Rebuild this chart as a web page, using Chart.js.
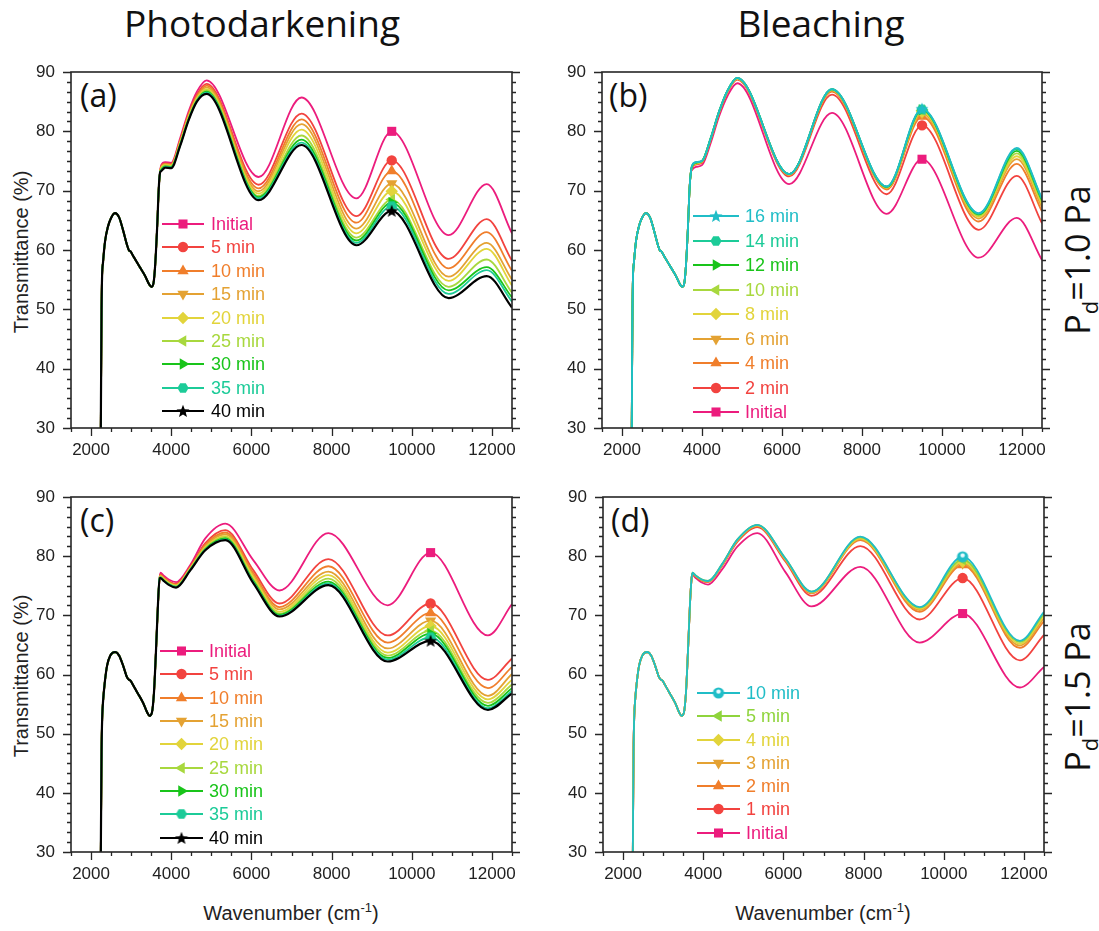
<!DOCTYPE html>
<html>
<head>
<meta charset="utf-8">
<script src="https://cdn.jsdelivr.net/npm/chart.js@4.4.1/dist/chart.umd.min.js"></script>
<style>
  body { margin: 0; background: #fff; }
  #page { position: relative; width: 1099px; height: 931px; overflow: hidden; font-family: 'Liberation Sans', Arial, sans-serif; color: #222; }
  .abs { position: absolute; white-space: nowrap; }
  .head { font-family: 'Open Sans', sans-serif; font-size: 37px; line-height: 1; transform: translateX(-50%); color: #111; }
  .tag { font-family: 'Open Sans', sans-serif; font-size: 32px; line-height: 1; color: #111; }
  .ytitle { font-size: 20px; line-height: 1; transform: translate(-50%, -50%) rotate(-90deg); }
  .xtitle { font-size: 20px; line-height: 1; transform: translate(-50%, -50%); }
  .side { font-family: 'Open Sans', sans-serif; font-size: 34px; line-height: 1; transform: translate(-50%, -50%) rotate(-90deg); color: #111; }
  .lg { font-size: 18px; line-height: 20px; }
  canvas { position: absolute; }
</style>
</head>
<body>
<div id="page">
  <div class="abs head" style="left:262px; top:4px">Photodarkening</div>
  <div class="abs head" style="left:821px; top:4px">Bleaching</div>
  <div class="abs ytitle" style="left:21px; top:252px">Transmittance (%)</div>
  <div class="abs ytitle" style="left:21px; top:676px">Transmittance (%)</div>
  <div class="abs xtitle" style="left:291px; top:912px">Wavenumber (cm<sup style="font-size:13px">-1</sup>)</div>
  <div class="abs xtitle" style="left:823px; top:912px">Wavenumber (cm<sup style="font-size:13px">-1</sup>)</div>
  <div class="abs side" style="left:1080px; top:260px">P<sub style="font-size:22px">d</sub>=1.0 Pa</div>
  <div class="abs side" style="left:1080px; top:697px">P<sub style="font-size:22px">d</sub>=1.5 Pa</div>
  <div class="abs tag" style="left:80px; top:79px">(a)</div>
  <div class="abs tag" style="left:609px; top:79px">(b)</div>
  <div class="abs tag" style="left:80px; top:504px">(c)</div>
  <div class="abs tag" style="left:611px; top:504px">(d)</div>
</div>
<script>
// axis ticks
const xTickVals = [2000, 4000, 6000, 8000, 10000, 12000];

// low wavenumber part, identical for every curve of a sample
const lowX10 = [2240, 2262, 2275, 2300, 2350, 2420, 2500, 2600, 2700, 2800, 2900, 2950, 2980, 3050, 3200, 3350, 3450, 3510, 3560, 3600, 3650, 3690, 3720];
const lowY10 = [26, 50, 55.5, 58.0, 61.5, 63.9, 65.4, 66.2, 65.5, 63.3, 60.8, 59.9, 59.8, 59.0, 57.3, 55.6, 54.2, 53.8, 54.5, 57.5, 64.0, 70.5, 73.0];
const lowX15 = [2240, 2262, 2280, 2300, 2340, 2400, 2480, 2600, 2700, 2800, 2900, 2950, 2980, 3050, 3150, 3300, 3400, 3460, 3520, 3570, 3620, 3670, 3710];
const lowY15 = [26, 47, 53, 55.5, 58.5, 61.5, 63.2, 63.8, 63.2, 61.5, 59.5, 59.1, 59.0, 58.2, 57.0, 55.2, 53.6, 53.0, 53.6, 57.0, 64.0, 72.0, 76.3];

// wavenumbers of the part where the curves separate
const tailX10 = [3750, 3850, 4000, 4220, 4430, 4640, 4880, 6180, 7250, 8620, 9500, 10920, 11870, 12500];
const tailX15 = [3735, 3800, 3950, 4120, 4475, 4850, 5350, 6050, 6700, 7920, 9400, 10470, 11900, 12500];
const markX10 = 9500;
const markX15 = 10470;

// (a) photodarkening, Pd = 1.0 Pa
const aLabels = ['Initial', '5 min', '10 min', '15 min', '20 min', '25 min', '30 min', '35 min', '40 min'];
const aInitial = [74.3, 74.8, 74.7, 78.8, 83.3, 86.7, 88.6, 72.3, 85.7, 68.7, 80.0, 62.5, 71.1, 62.8];
const a5 = [74.1, 74.6, 74.5, 78.5, 82.9, 86.2, 88.0, 71.0, 83.0, 65.7, 75.1, 58.5, 65.2, 58.2];
const a10 = [74.0, 74.5, 74.4, 78.3, 82.7, 85.9, 87.7, 70.4, 82.0, 64.6, 73.3, 56.9, 63.0, 56.5];
const a15 = [73.9, 74.4, 74.3, 78.1, 82.5, 85.7, 87.4, 69.9, 81.2, 63.6, 71.2, 55.5, 61.2, 55.0];
const a20 = [73.8, 74.3, 74.2, 78.0, 82.3, 85.5, 87.1, 69.5, 80.3, 62.8, 69.9, 54.8, 60.2, 54.0];
const a25 = [73.6, 74.2, 74.1, 77.8, 82.1, 85.3, 86.9, 69.1, 79.3, 62.1, 68.5, 53.8, 58.4, 52.8];
const a30 = [73.5, 74.1, 74.0, 77.7, 82.0, 85.2, 86.7, 68.9, 78.6, 61.6, 68.0, 53.2, 57.1, 52.0];
const a35 = [73.4, 74.0, 73.9, 77.6, 81.9, 85.1, 86.5, 68.7, 78.1, 61.2, 67.4, 52.6, 56.6, 51.3];
const a40 = [73.3, 73.9, 73.8, 77.5, 81.8, 85.0, 86.3, 68.4, 77.7, 60.8, 66.6, 51.9, 55.6, 50.3];

// (b) bleaching, Pd = 1.0 Pa
const bLabels = ['16 min', '14 min', '12 min', '10 min', '8 min', '6 min', '4 min', '2 min', 'Initial'];
const b16 = [74.2, 74.8, 75.0, 78.9, 83.4, 86.9, 89.0, 72.8, 87.1, 70.7, 83.8, 66.2, 77.2, 68.7];
const b14 = [74.2, 74.8, 75.0, 78.9, 83.4, 86.9, 89.0, 72.8, 87.1, 70.7, 83.7, 66.1, 77.0, 68.6];
const b12 = [74.1, 74.7, 75.0, 78.9, 83.4, 86.9, 89.0, 72.8, 87.1, 70.6, 83.6, 66.0, 76.7, 68.4];
const b10 = [74.1, 74.7, 75.0, 78.9, 83.4, 86.9, 89.0, 72.8, 87.0, 70.6, 83.5, 65.8, 76.3, 68.1];
const b8 = [74.0, 74.6, 74.9, 78.8, 83.3, 86.8, 88.9, 72.7, 87.0, 70.5, 83.3, 65.6, 75.8, 67.7];
const b6 = [74.0, 74.6, 74.9, 78.8, 83.3, 86.8, 88.9, 72.7, 86.9, 70.4, 83.0, 65.3, 75.3, 67.2];
const b4 = [73.9, 74.5, 74.8, 78.7, 83.2, 86.7, 88.8, 72.6, 86.7, 70.2, 82.5, 64.8, 74.5, 66.5];
const b2 = [73.8, 74.4, 74.7, 78.6, 83.1, 86.6, 88.7, 72.4, 86.2, 69.4, 81.0, 63.4, 72.5, 64.5];
const bInitial = [73.5, 74.0, 74.3, 78.1, 82.6, 86.0, 88.1, 71.1, 83.1, 66.1, 75.3, 58.7, 65.4, 58.3];

// (c) photodarkening, Pd = 1.5 Pa
const cLabels = aLabels;
const cInitial = [77.2, 76.8, 76.0, 75.6, 78.5, 83.0, 85.5, 79.3, 74.2, 83.9, 71.7, 80.6, 66.6, 71.9];
const c5 = [76.9, 76.5, 75.7, 75.3, 78.2, 82.2, 84.4, 77.6, 72.0, 79.5, 66.6, 72.0, 59.1, 62.7];
const c10 = [76.8, 76.4, 75.6, 75.2, 78.1, 81.9, 84.0, 77.1, 71.4, 78.3, 65.4, 70.4, 57.7, 61.3];
const c15 = [76.7, 76.3, 75.5, 75.1, 78.0, 81.7, 83.7, 76.7, 71.0, 77.4, 64.4, 69.1, 56.4, 60.1];
const c20 = [76.6, 76.2, 75.4, 75.0, 77.9, 81.5, 83.4, 76.4, 70.6, 76.8, 63.7, 68.2, 55.8, 59.1];
const c25 = [76.5, 76.1, 75.3, 74.9, 77.8, 81.3, 83.2, 76.0, 70.3, 76.2, 63.2, 67.4, 55.2, 58.3];
const c30 = [76.4, 76.0, 75.2, 74.8, 77.7, 81.2, 83.0, 75.8, 70.1, 75.7, 62.8, 66.9, 54.7, 57.7];
const c35 = [76.4, 75.9, 75.2, 74.8, 77.7, 81.1, 82.85, 75.6, 69.9, 75.4, 62.5, 66.3, 54.3, 57.2];
const c40 = [76.3, 75.9, 75.1, 74.7, 77.6, 81.0, 82.7, 75.4, 69.8, 75.1, 62.2, 65.7, 54.0, 56.8];

// (d) bleaching, Pd = 1.5 Pa
const dLabels = ['10 min', '5 min', '4 min', '3 min', '2 min', '1 min', 'Initial'];
const d10 = [77.2, 76.8, 76.1, 75.8, 78.7, 82.8, 85.3, 79.6, 74.0, 83.3, 71.4, 79.9, 65.7, 70.6];
const d5 = [77.2, 76.8, 76.1, 75.8, 78.7, 82.8, 85.3, 79.6, 74.0, 83.2, 71.3, 79.4, 65.5, 70.3];
const d4 = [77.2, 76.8, 76.1, 75.8, 78.6, 82.7, 85.2, 79.5, 73.9, 83.0, 71.1, 79.1, 65.2, 69.9];
const d3 = [77.1, 76.7, 76.0, 75.7, 78.6, 82.7, 85.2, 79.4, 73.8, 82.9, 70.9, 78.8, 64.9, 69.5];
const d2 = [77.1, 76.7, 76.0, 75.7, 78.5, 82.6, 85.1, 79.3, 73.7, 82.7, 70.6, 78.5, 64.5, 69.0];
const d1 = [77.0, 76.6, 75.9, 75.6, 78.4, 82.4, 84.9, 79.1, 73.3, 81.7, 69.3, 76.3, 62.4, 66.7];
const dInitial = [76.8, 76.4, 75.6, 75.2, 77.8, 81.6, 83.9, 77.3, 71.5, 78.2, 65.4, 70.3, 57.8, 61.3];

// colours and marker shapes, in legend order
const darkColors = ['#ec1c7d', '#f2433f', '#f07e2b', '#e4a233', '#e2d43b', '#a8d83e', '#19c41a', '#1ccb98', '#000000'];
const darkMarks = ['square', 'circle', 'up', 'down', 'diamond', 'left', 'right', 'hex', 'star'];
const bleachColors = ['#20bdc7', '#1ccb98', '#19c41a', '#a8d83e', '#e2d43b', '#e4a233', '#f07e2b', '#f2433f', '#ec1c7d'];
const bleachMarks = ['star', 'hex', 'right', 'left', 'diamond', 'down', 'up', 'circle', 'square'];
const dColors = ['#20bdc7', '#8fd43c', '#e2d43b', '#e4a233', '#f07e2b', '#f2433f', '#ec1c7d'];
const dMarks = ['ball', 'left', 'diamond', 'down', 'up', 'circle', 'square'];

function glyph(kind, color) {
  const c = document.createElement('canvas');
  c.width = c.height = 14;
  const g = c.getContext('2d');
  g.fillStyle = color;
  g.beginPath();
  if (kind === 'star') {
    for (let k = 0; k < 10; k++) {
      const ang = -Math.PI / 2 + k * Math.PI / 5;
      const rr = k % 2 ? 2.9 : 6.8;
      g.lineTo(7 + rr * Math.cos(ang), 7.5 + rr * Math.sin(ang));
    }
    g.closePath(); g.fill();
  } else if (kind === 'hex') {
    for (let k = 0; k < 6; k++) {
      const ang = k * Math.PI / 3;
      g.lineTo(7 + 5.6 * Math.cos(ang), 7 + 5.6 * Math.sin(ang));
    }
    g.closePath(); g.fill();
  } else {
    g.arc(7, 7, 5.6, 0, Math.PI * 2); g.fill();
    g.fillStyle = '#e8fbff';
    g.beginPath(); g.arc(7, 5.6, 2.2, 0, Math.PI * 2); g.fill();
  }
  return c;
}

function markSpec(kind, color) {
  switch (kind) {
    case 'square': return { pointStyle: 'rect', rotation: 0, radius: 6.4 };
    case 'circle': return { pointStyle: 'circle', rotation: 0, radius: 5.2 };
    case 'up': return { pointStyle: 'triangle', rotation: 0, radius: 6.5 };
    case 'down': return { pointStyle: 'triangle', rotation: 180, radius: 6.5 };
    case 'left': return { pointStyle: 'triangle', rotation: -90, radius: 6.5 };
    case 'right': return { pointStyle: 'triangle', rotation: 90, radius: 6.5 };
    case 'diamond': return { pointStyle: 'rectRot', rotation: 0, radius: 6.2 };
    default: return { pointStyle: glyph(kind, color), rotation: 0, radius: 6 };
  }
}

// frame, outward major / minor ticks (top edge has none)
const frameTicks = {
  id: 'frameTicks',
  afterDraw(chart) {
    const { ctx, chartArea: a, scales: { x, y } } = chart;
    ctx.save();
    ctx.strokeStyle = '#262626';
    ctx.lineWidth = 1.6;
    ctx.strokeRect(a.left, a.top, a.right - a.left, a.bottom - a.top);
    ctx.lineWidth = 1.3;
    ctx.beginPath();
    for (let v = 1500; v <= 12500; v += 500) {
      const px = Math.round(x.getPixelForValue(v)) + 0.5;
      const len = v % 2000 === 0 ? 8 : 4;
      ctx.moveTo(px, a.bottom); ctx.lineTo(px, a.bottom + len);
    }
    for (let k = 0; k <= 36; k++) {
      const py = Math.round(y.getPixelForValue(30 + k * 10 / 6)) + 0.5;
      const len = k % 6 === 0 ? 8 : 4;
      ctx.moveTo(a.left, py); ctx.lineTo(a.left - len, py);
      ctx.moveTo(a.right, py); ctx.lineTo(a.right + len, py);
    }
    ctx.stroke();
    ctx.restore();
  }
};

// plot-area target inside each canvas: left 71, top 12
const panels = [
  { box: [0, 60, 530, 400], padR: 18, xh: 32, lowX: lowX10, lowY: lowY10, tailX: tailX10, markX: markX10,
    series: [aInitial, a5, a10, a15, a20, a25, a30, a35, a40], labels: aLabels, colors: darkColors, marks: darkMarks,
    topLast: true, legend: { x1: 162, x2: 204, tx: 211, y0: 224, dy: 23.4 } },
  { box: [531, 60, 530, 400], padR: 19, xh: 32, lowX: lowX10, lowY: lowY10, tailX: tailX10, markX: markX10,
    series: [b16, b14, b12, b10, b8, b6, b4, b2, bInitial], labels: bLabels, colors: bleachColors, marks: bleachMarks,
    topLast: false, legend: { x1: 693, x2: 739, tx: 745, y0: 216, dy: 24.5 } },
  { box: [0, 485, 530, 400], padR: 18, xh: 33, lowX: lowX15, lowY: lowY15, tailX: tailX15, markX: markX15,
    series: [cInitial, c5, c10, c15, c20, c25, c30, c35, c40], labels: cLabels, colors: darkColors, marks: darkMarks,
    topLast: true, legend: { x1: 160, x2: 203, tx: 209, y0: 651, dy: 23.35 } },
  { box: [532, 485, 530, 400], padR: 18, xh: 33, lowX: lowX15, lowY: lowY15, tailX: tailX15, markX: markX15,
    series: [d10, d5, d4, d3, d2, d1, dInitial], labels: dLabels, colors: dColors, marks: dMarks,
    topLast: false, legend: { x1: 697, x2: 740, tx: 746, y0: 693, dy: 23.27 } }
];

const page = document.getElementById('page');
const tickFont = { family: 'Liberation Sans', size: 17 };
// invisible tick marks only push the labels away from the frame
const hiddenGrid = len => ({ display: true, drawOnChartArea: false, drawTicks: true, tickLength: len, tickColor: 'rgba(0,0,0,0)', color: 'rgba(0,0,0,0)' });

panels.forEach(p => {
  const cv = document.createElement('canvas');
  cv.width = p.box[2]; cv.height = p.box[3];
  cv.style.left = p.box[0] + 'px'; cv.style.top = p.box[1] + 'px';
  page.appendChild(cv);

  const n = p.series.length;
  const datasets = p.series.map((tail, i) => {
    const mk = markSpec(p.marks[i], p.colors[i]);
    const pts = p.lowX.map((x, k) => ({ x, y: p.lowY[k] }))
      .concat(p.tailX.map((x, k) => ({ x, y: tail[k] })));
    return {
      label: p.labels[i],
      data: pts,
      borderColor: p.colors[i],
      backgroundColor: p.colors[i],
      borderWidth: p.colors[i] === '#000000' ? 2.2 : 1.8,
      cubicInterpolationMode: 'monotone',
      pointStyle: mk.pointStyle,
      pointRotation: mk.rotation,
      pointBorderWidth: 0,
      pointBackgroundColor: p.colors[i],
      pointRadius: c => (c.raw && c.raw.x === p.markX ? mk.radius : 0),
      order: p.topLast ? n - 1 - i : i
    };
  });

  const chart = new Chart(cv, {
    type: 'line',
    data: { datasets },
    plugins: [frameTicks],
    options: {
      responsive: false,
      animation: false,
      events: [],
      layout: { padding: { top: 12, right: p.padR, left: 0, bottom: 0 }, autoPadding: false },
      plugins: { legend: { display: false }, tooltip: { enabled: false } },
      scales: {
        x: {
          type: 'linear', min: 1500, max: 12500,
          grid: hiddenGrid(12), border: { display: false },
          afterBuildTicks: s => { s.ticks = xTickVals.map(v => ({ value: v })); },
          afterFit: s => { s.height = p.xh; },
          ticks: { autoSkip: false, maxRotation: 0, padding: 0, color: '#222', font: tickFont,
                   callback: v => String(v) }
        },
        y: {
          min: 30, max: 90,
          grid: hiddenGrid(16), border: { display: false },
          afterFit: s => { s.width = 71; },
          ticks: { stepSize: 10, padding: 0, color: '#222', font: tickFont, callback: v => String(v) }
        }
      }
    }
  });

  // pin the plot area to the wanted pixels
  const ca = chart.chartArea;
  const wantBottom = p.box[3] - p.xh;
  const wantRight = p.box[2] - p.padR;
  if (Math.abs(ca.top - 12) > 0.5 || Math.abs(ca.bottom - wantBottom) > 0.5 || Math.abs(ca.right - wantRight) > 0.5 || Math.abs(ca.left - 71) > 0.5) {
    chart.options.layout.padding = {
      top: 12 + (12 - ca.top),
      bottom: ca.bottom - wantBottom,
      right: p.padR + (ca.right - wantRight),
      left: 71 - ca.left
    };
    chart.update();
  }

  // legend inside the plot: line sample with marker, coloured label
  p.labels.forEach((lab, i) => {
    const yc = p.legend.y0 + i * p.legend.dy;
    const w = p.legend.x2 - p.legend.x1;
    const sc = document.createElement('canvas');
    sc.width = w; sc.height = 18;
    sc.style.left = p.legend.x1 + 'px'; sc.style.top = Math.round(yc - 9) + 'px';
    const g = sc.getContext('2d');
    g.strokeStyle = p.colors[i]; g.lineWidth = 1.8;
    g.beginPath(); g.moveTo(0, 9); g.lineTo(w, 9); g.stroke();
    const mk = markSpec(p.marks[i], p.colors[i]);
    g.fillStyle = p.colors[i];
    if (Chart.helpers && Chart.helpers.drawPoint) {
      Chart.helpers.drawPoint(g, { pointStyle: mk.pointStyle, rotation: mk.rotation, radius: mk.radius, borderWidth: 0 }, w / 2, 9);
    }
    page.appendChild(sc);
    const t = document.createElement('div');
    t.className = 'abs lg';
    t.style.left = p.legend.tx + 'px';
    t.style.top = Math.round(yc - 10) + 'px';
    t.style.color = p.colors[i];
    t.textContent = lab;
    page.appendChild(t);
  });
});
</script>
</body>
</html>
